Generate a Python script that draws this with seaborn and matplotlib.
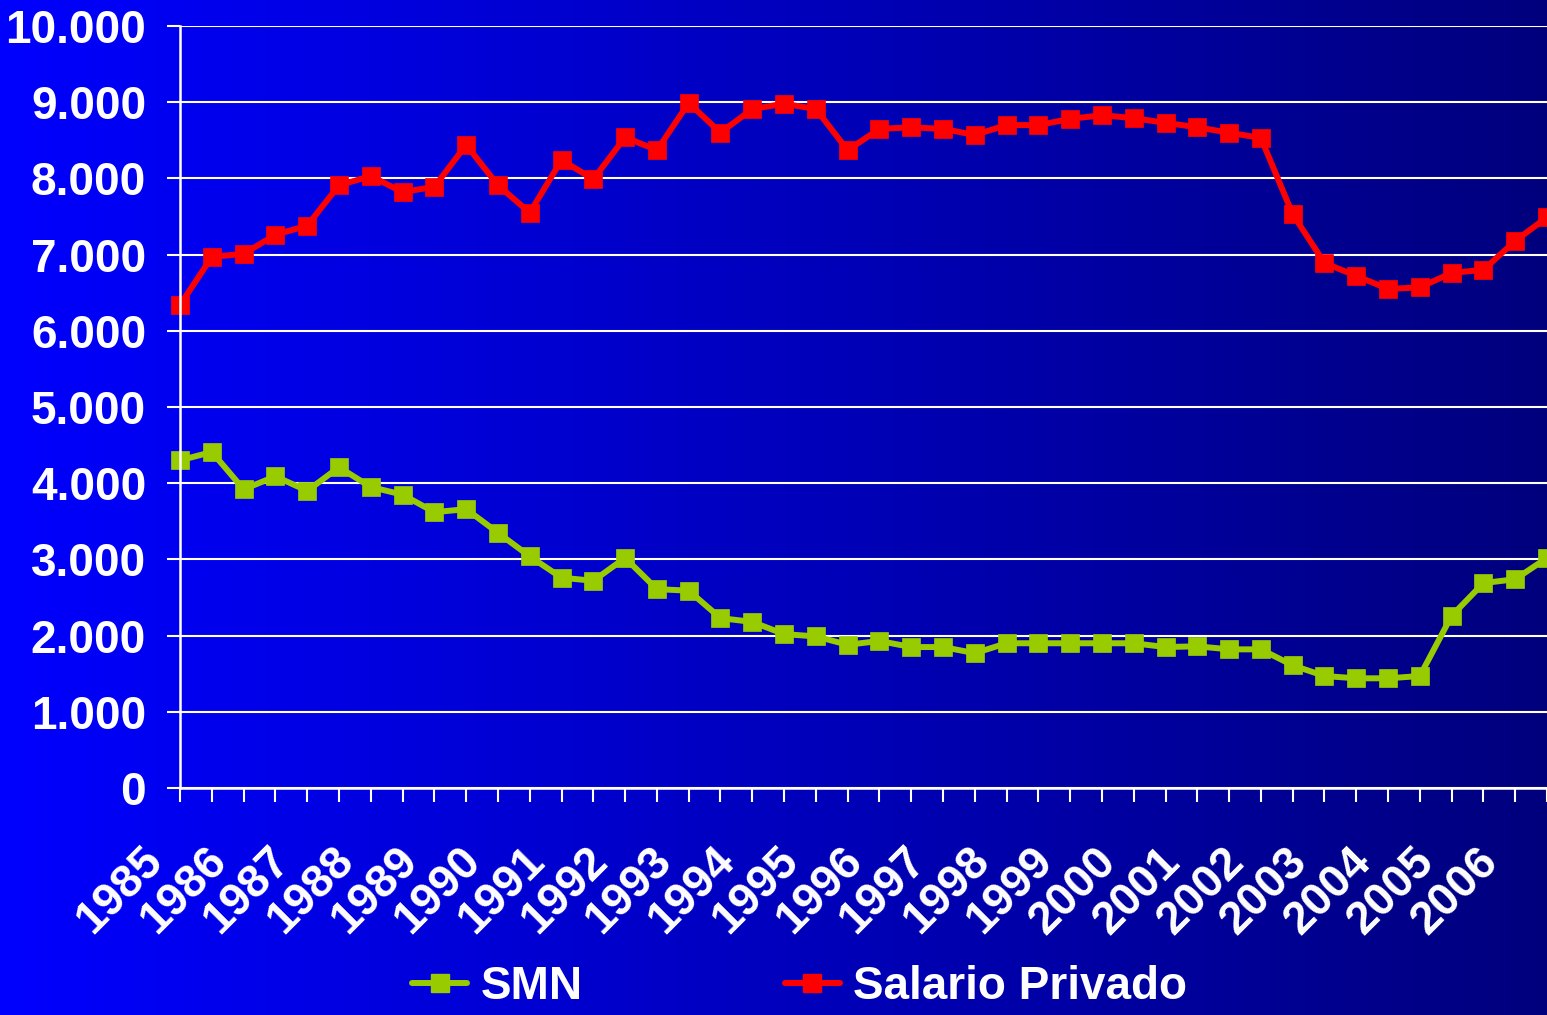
import numpy as np
import pandas as pd
import seaborn as sns
import matplotlib.pyplot as plt
import matplotlib.transforms as mtransforms
from matplotlib.lines import Line2D

sns.set_theme(style="white")
plt.rcParams['font.family'] = ['Liberation Sans', 'DejaVu Sans']

# semiannual observations, 1985 - 2006
years = list(range(1985, 2007))
smn = [4300, 4410, 3920, 4090, 3900, 4210, 3950, 3850, 3620, 3660,
       3350, 3040, 2760, 2720, 3020, 2610, 2590, 2230, 2180, 2020,
       1990, 1880, 1930, 1850, 1850, 1770, 1900, 1900, 1900, 1900,
       1900, 1850, 1860, 1820, 1820, 1610, 1470, 1440, 1440, 1470,
       2260, 2690, 2740, 3020]
salario_privado = [6340, 6970, 7010, 7260, 7380, 7910, 8030, 7820, 7890, 8440,
                   7910, 7550, 8240, 7990, 8540, 8370, 8990, 8600, 8910, 8980,
                   8910, 8370, 8650, 8670, 8650, 8570, 8700, 8700, 8780, 8830,
                   8790, 8730, 8670, 8600, 8530, 7530, 6890, 6720, 6550, 6570,
                   6760, 6800, 7180, 7490]

series_names = ["SMN", "Salario Privado"]
colors = {"SMN": "#99CC00", "Salario Privado": "#FF0000"}

n = len(smn)
df = pd.concat([
    pd.DataFrame({"idx": np.arange(n), "valor": smn, "serie": "SMN"}),
    pd.DataFrame({"idx": np.arange(n), "valor": salario_privado, "serie": "Salario Privado"}),
])

fs = 33

fig = plt.figure(figsize=(15.47, 10.15), dpi=100)

# blue gradient background
bg = fig.add_axes([0, 0, 1, 1], zorder=-1)
grad = np.linspace(0, 1, 256)
img = np.zeros((2, 256, 3))
img[:, :, 2] = (255 - 130 * grad) / 255.0
bg.imshow(img, aspect="auto", extent=[0, 1, 0, 1])
bg.axis("off")

ax = fig.add_axes([0.1164, 0.2236, 0.8836, 0.7508])
ax.patch.set_alpha(0)

sns.lineplot(data=df, x="idx", y="valor", hue="serie", style="serie",
             hue_order=series_names, palette=colors,
             markers={"SMN": "s", "Salario Privado": "s"}, dashes=False,
             linewidth=4.3, markersize=13.5, markeredgewidth=0.5,
             legend=False, ax=ax)
for line in ax.lines:
    line.set_clip_on(False)
    line.set_markeredgecolor(line.get_color())

ax.set_xlim(0, n - 1)
ax.set_ylim(0, 10000)
ax.set_xlabel("")
ax.set_ylabel("")

ax.set_yticks(np.arange(0, 10001, 1000))
ax.set_yticklabels([f"{v:,}".replace(",", ".") for v in range(0, 10001, 1000)])
ax.set_xticks(np.arange(n))
xlabels = []
for i in range(n):
    xlabels.append(str(years[i // 2]) if i % 2 == 0 else "")
ax.set_xticklabels(xlabels)

ax.yaxis.grid(True, color="white", linewidth=1.5)
ax.xaxis.grid(False)
ax.set_axisbelow(True)

for side in ["top", "right"]:
    ax.spines[side].set_visible(False)
for side in ["left", "bottom"]:
    ax.spines[side].set_color("white")
    ax.spines[side].set_linewidth(1.8)

ax.tick_params(axis="y", left=True, length=9.5, width=1.5, color="white",
               labelcolor="white", labelsize=fs, pad=15)
ax.tick_params(axis="x", bottom=True, length=10, width=1.5, color="white",
               labelcolor="white", labelsize=fs, pad=38)
for lab in ax.get_yticklabels():
    lab.set_fontweight("bold")
shift = mtransforms.ScaledTranslation(-24 / 100, 0, fig.dpi_scale_trans)
for lab in ax.get_xticklabels():
    lab.set_fontweight("bold")
    lab.set_rotation(45)
    lab.set_ha("right")
    lab.set_va("center")
    lab.set_rotation_mode("anchor")
    lab.set_transform(lab.get_transform() + shift)

handles = [Line2D([0], [0], color=colors[s], linewidth=4.3, marker="s",
                  markersize=13.5, markeredgecolor=colors[s]) for s in series_names]
leg = fig.legend(handles, series_names, loc="center", bbox_to_anchor=(0.517, 0.028),
                 ncol=2, frameon=False, handlelength=1.2, handletextpad=0.3,
                 columnspacing=4.4, borderpad=0.1, prop={"size": fs, "weight": "bold"})
for t in leg.get_texts():
    t.set_color("white")

fig.savefig("out.png", dpi=100)
